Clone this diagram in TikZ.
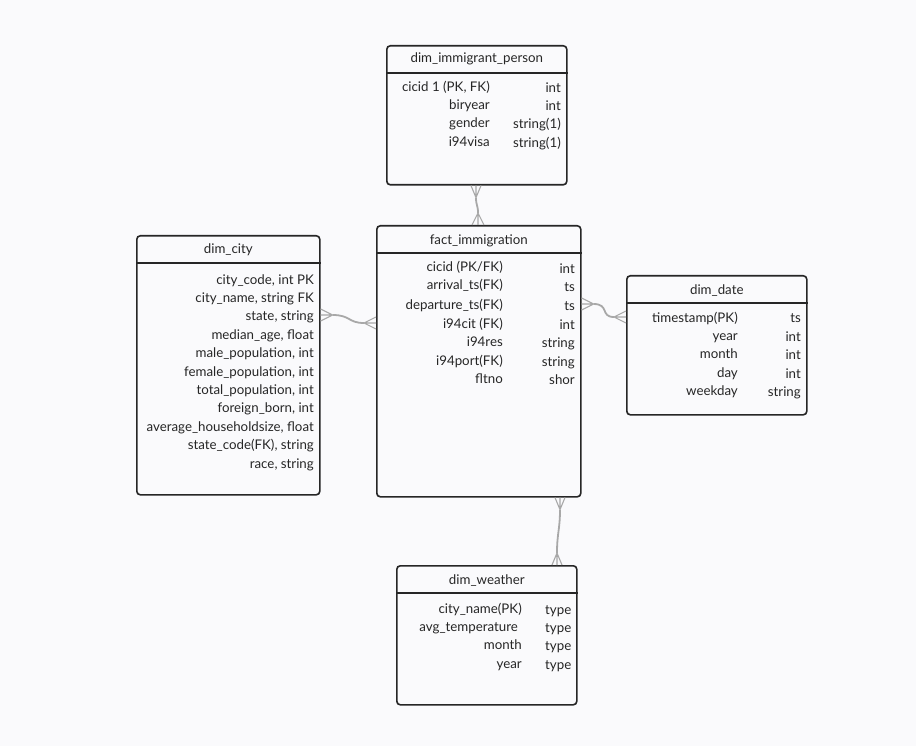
\documentclass[tikz,border=0pt]{standalone}
\usepackage{fontspec}
\setmainfont{Lato}
\usetikzlibrary{calc}
\definecolor{bg}{HTML}{FAFAFC}
\definecolor{frame}{HTML}{262626}
\definecolor{ink}{HTML}{262626}
\definecolor{link}{HTML}{A8A8A8}
% crow's foot: edge point, junction point, half-spread vector
\newcommand\crowsfoot[3]{%
  \draw[foot] (#2) -- (#1) (#2) -- ($(#1)+(#3)$) (#2) -- ($(#1)-(#3)$);}
\begin{document}
\begin{tikzpicture}[x=1pt,y=-1pt,
  table/.style={draw=frame, line width=1.6pt, rounded corners=3.5pt, anchor=north west, inner sep=0pt},
  sep/.style={draw=frame, line width=1.3pt},
  title/.style={font=\fontsize{13.3}{16}\selectfont, text=ink, anchor=base, inner sep=0pt},
  field/.style={font=\fontsize{13.3}{16}\selectfont, text=ink, anchor=base east, inner sep=0pt},
  fieldl/.style={font=\fontsize{13.3}{16}\selectfont, text=ink, anchor=base west, inner sep=0pt},
  rel/.style={draw=link, line width=1.8pt},
  foot/.style={draw=link, line width=1.1pt}]
\fill[bg] (0,0) rectangle (916,746);
\useasboundingbox (0,0) rectangle (916,746);

% ---- tables ----
\node[table, minimum width=180pt, minimum height=139pt] (person) at (386,45) {};
\node[table, minimum width=204pt, minimum height=271pt] (fact) at (376,225) {};
\node[table, minimum width=183pt, minimum height=259pt] (city) at (136,235) {};
\node[table, minimum width=180pt, minimum height=139pt] (date) at (626,275) {};
\node[table, minimum width=180pt, minimum height=139pt] (weather) at (396,565) {};

\foreach \t in {person,fact,city,date,weather}
  \draw[sep] ($(\t.north west)+(0,28)$) -- ($(\t.north east)+(0,28)$);

% ---- titles ----
\node[title] (personT) at ($(person.north)+(0,18)$) {dim\_immigrant\_person};
\node[title] (factT) at ($(fact.north)+(0,19.5)$) {fact\_immigration};
\node[title] (cityT) at ($(city.north)+(0,18.5)$) {dim\_city};
\node[title] (dateT) at ($(date.north)+(0,19.5)$) {dim\_date};
\node[title] (weatherT) at ($(weather.north)+(0,19.5)$) {dim\_weather};

% ---- dim_immigrant_person fields ----
\foreach \n/\ty/\y [count=\i] in {{cicid 1 (PK, FK)}/int/87, biryear/int/105,
    gender/string(1)/123, i94visa/string(1)/142}{
  \node[field] (personN\i) at (490,\y+5) {\n};
  \node[field] (personY\i) at (561,\y+6) {\ty};
}

% ---- fact_immigration fields ----
\foreach \n/\ty/\y [count=\i] in {{cicid (PK/FK)}/int/267, arrival\_ts(FK)/ts/285,
    departure\_ts(FK)/ts/304, i94cit (FK)/int/323, i94res/string/341,
    i94port(FK)/string/360, fltno/shor/378}{
  \node[field] (factN\i) at (503,\y+5) {\n};
  \node[field] (factY\i) at (575,\y+6) {\ty};
}

% ---- dim_city fields ----
\foreach \n/\y [count=\i] in {{city\_code, int PK}/279, {city\_name, string FK}/297,
    {state, string}/315, {median\_age, float}/334, {male\_population, int}/352,
    {female\_population, int}/371, {total\_population, int}/389,
    {foreign\_born, int}/407, {average\_householdsize, float}/426,
    {state\_code(FK), string}/444, {race, string}/463}{
  \node[field] (cityN\i) at (314,\y+5) {\n};
}

% ---- dim_date fields ----
\foreach \n/\ty/\y [count=\i] in {timestamp(PK)/ts/317, year/int/335,
    month/int/353, day/int/372, weekday/string/390}{
  \node[field] (dateN\i) at (738,\y+5) {\n};
  \node[field] (dateY\i) at (801,\y+6) {\ty};
}

% ---- dim_weather fields ----
\foreach \n/\x/\y [count=\i] in {city\_name(PK)/522/608, avg\_temperature/518/626,
    month/522/644, year/522/663}{
  \node[field] (weatherN\i) at (\x,\y+5) {\n};
  \node[fieldl] (weatherY\i) at (545,\y+6) {type};
}

% ---- relationship end points ----
\coordinate (pe) at ($(person.south west)+(90,0)$);
\coordinate (pj) at ($(pe)+(0,12)$);
\coordinate (fe1) at ($(fact.north west)+(102,0)$);
\coordinate (fj1) at ($(fe1)+(0,-12)$);

\coordinate (ce) at ($(city.north east)+(0,80)$);
\coordinate (cj) at ($(ce)+(12,0)$);
\coordinate (fe2) at ($(fact.north west)+(0,98)$);
\coordinate (fj2) at ($(fe2)+(-12,0)$);

\coordinate (fe3) at ($(fact.north east)+(0,79)$);
\coordinate (fj3) at ($(fe3)+(12,0)$);
\coordinate (de) at ($(date.north west)+(0,42)$);
\coordinate (dj) at ($(de)+(-12,0)$);

\coordinate (fe4) at ($(fact.south west)+(184,0)$);
\coordinate (fj4) at ($(fe4)+(0,12)$);
\coordinate (we) at ($(weather.north west)+(161,0)$);
\coordinate (wj) at ($(we)+(0,-12)$);

% ---- relationship lines ----
\draw[rel] (pj) .. controls +(0,8) and +(0,-8) .. (fj1);
\draw[rel] (cj) .. controls +(18,0) and +(-16,0) .. (fj2);
\draw[rel] (fj3) .. controls +(16,0) and +(-14,0) .. (dj);
\draw[rel] (fj4) .. controls +(0,20) and +(0,-20) .. (wj);

\crowsfoot{pe}{pj}{5,0}
\crowsfoot{fe1}{fj1}{6,0}
\crowsfoot{ce}{cj}{0,6}
\crowsfoot{fe2}{fj2}{0,6}
\crowsfoot{fe3}{fj3}{0,6}
\crowsfoot{de}{dj}{0,6}
\crowsfoot{fe4}{fj4}{5,0}
\crowsfoot{we}{wj}{5,0}
\end{tikzpicture}
\end{document}
